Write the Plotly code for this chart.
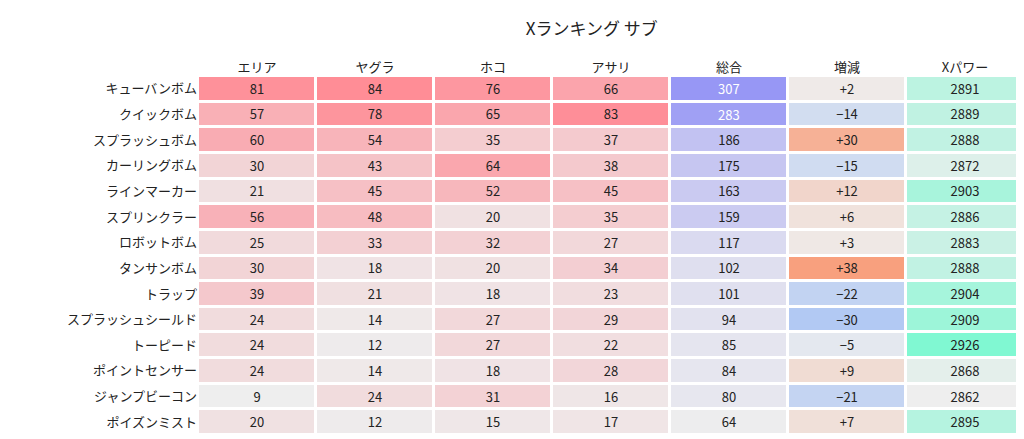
import plotly.graph_objects as go

rows = ["キューバンボム","クイックボム","スプラッシュボム","カーリングボム","ラインマーカー","スプリンクラー",
        "ロボットボム","タンサンボム","トラップ","スプラッシュシールド","トーピード","ポイントセンサー",
        "ジャンプビーコン","ポイズンミスト"]
cols = ["エリア","ヤグラ","ホコ","アサリ","総合","増減","Xパワー"]
area = [81,57,60,30,21,56,25,30,39,24,24,24,9,20]
yagura = [84,78,54,43,45,48,33,18,21,14,12,14,24,12]
hoko = [76,65,35,64,52,20,32,20,18,27,27,18,31,15]
asari = [66,83,37,38,45,35,27,34,23,29,22,28,16,17]
total = [307,283,186,175,163,159,117,102,101,94,85,84,80,64]
delta = [2,-14,30,-15,12,6,3,38,-22,-30,-5,9,-21,7]
xpower = [2891,2889,2888,2872,2903,2886,2883,2888,2904,2909,2926,2868,2862,2895]

font = "Noto Sans CJK JP"
fig = go.Figure()
xs = list(range(len(cols)))
ys = list(range(len(rows)))

def add(colidx, data, scale, zmin, zmax, fmt=str, txtcolor=None):
    z = [[None] * len(cols) for _ in rows]
    t = [[""] * len(cols) for _ in rows]
    for c, series in zip(colidx, data):
        for r, v in enumerate(series):
            z[r][c] = v
            t[r][c] = fmt(v)
    fig.add_trace(go.Heatmap(x=xs, y=ys, z=z, text=t, texttemplate="%{text}",
        textfont=dict(family=font, size=13, color="#222"), colorscale=scale, zmin=zmin, zmax=zmax,
        showscale=False, xgap=3, ygap=3, hoverinfo="skip"))

add([0, 1, 2, 3], [area, yagura, hoko, asari], [[0, "#eeeeee"], [1, "#ff8a94"]], 10, 86)
add([4], [[v if v <= 270 else v for v in total]], [[0, "#eeeeee"], [1, "#9696f5"]], 60, 310,
    fmt=lambda v: "" if v > 270 else str(v))
add([5], [delta], [[0, "#9ebdf5"], [0.5, "#eeeeee"], [1, "#f99c78"]], -40, 40,
    fmt=lambda v: ("+" if v > 0 else "−") + str(abs(v)))
add([6], [xpower], [[0, "#eeeeee"], [1, "#80f8d2"]], 2862, 2926)

for i, v in enumerate(total):
    if v > 270:
        fig.add_annotation(x=4, y=i, text=str(v), showarrow=False,
                           font=dict(family=font, size=13, color="white"))

fig.update_layout(width=1024, height=439, margin=dict(l=190, r=8, t=68, b=12),
    plot_bgcolor="white", paper_bgcolor="white",
    title=dict(text="Xランキング サブ", x=0.57, y=0.965, xanchor="center",
               font=dict(family=font, size=17, color="#222")),
    font=dict(family=font, size=13, color="#222"))
fig.update_xaxes(side="top", tickvals=xs, ticktext=cols, range=[-0.5, 6.5], showgrid=False,
                 zeroline=False, tickfont=dict(size=13), ticks="")
fig.update_yaxes(autorange="reversed", tickvals=ys, ticktext=rows, showgrid=False, zeroline=False,
                 tickfont=dict(size=13), ticks="", ticksuffix="   ")
fig.write_html("out.html")
